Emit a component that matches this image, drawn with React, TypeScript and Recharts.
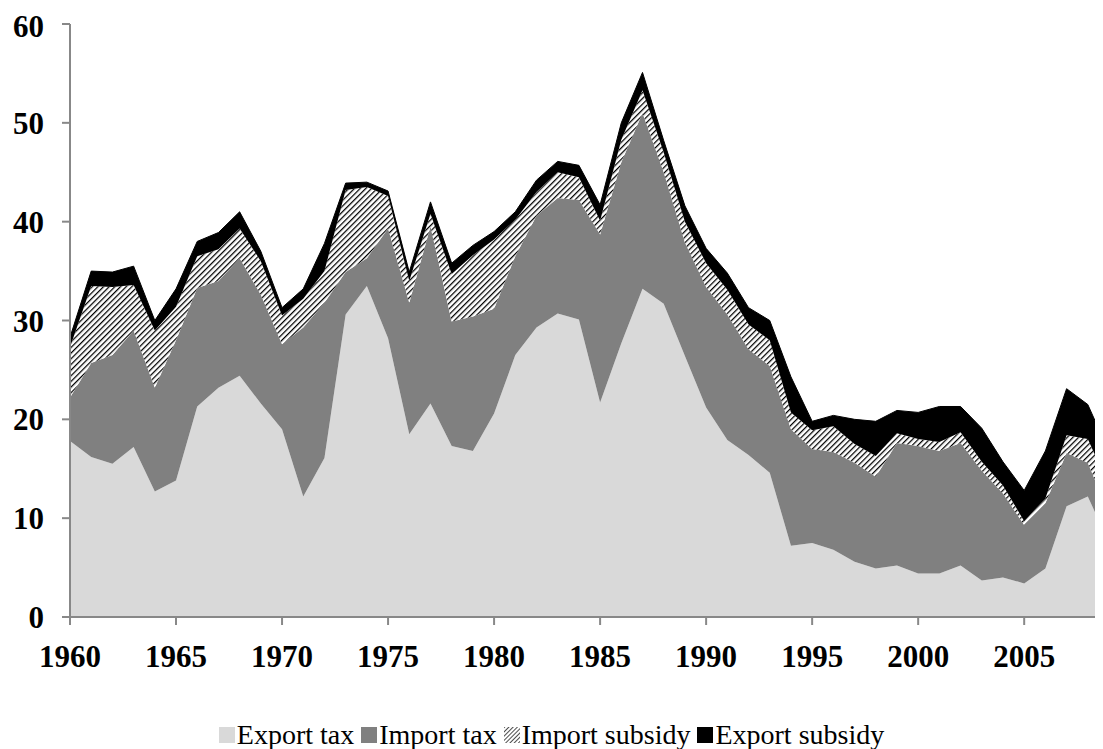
import { Area, AreaChart, XAxis, YAxis } from "recharts";

const years = [
  1960, 1961, 1962, 1963, 1964, 1965, 1966, 1967, 1968, 1969,
  1970, 1971, 1972, 1973, 1974, 1975, 1976, 1977, 1978, 1979,
  1980, 1981, 1982, 1983, 1984, 1985, 1986, 1987, 1988, 1989,
  1990, 1991, 1992, 1993, 1994, 1995, 1996, 1997, 1998, 1999,
  2000, 2001, 2002, 2003, 2004, 2005, 2006, 2007, 2008, 2009,
];

// values, per layer (stacked bottom to top)
const exportTax = [
  17.8, 16.2, 15.5, 17.2, 12.7, 13.8, 21.3, 23.2, 24.4, 21.6,
  19.0, 12.2, 16.1, 30.6, 33.5, 28.2, 18.5, 21.6, 17.3, 16.8,
  20.6, 26.5, 29.3, 30.7, 30.1, 21.7, 27.7, 33.2, 31.7, 26.4,
  21.2, 17.9, 16.4, 14.6, 7.2, 7.5, 6.8, 5.6, 4.9, 5.2,
  4.4, 4.4, 5.2, 3.7, 4.0, 3.4, 4.9, 11.2, 12.2, 7.5,
];
const importTax = [
  4.4, 9.5, 11.0, 11.8, 10.5, 14.2, 12.0, 10.8, 11.9, 11.0,
  8.6, 17.1, 15.7, 4.3, 2.8, 11.1, 13.3, 17.9, 12.6, 13.6,
  10.6, 10.0, 11.3, 11.7, 12.1, 17.0, 18.3, 17.8, 13.3, 11.5,
  12.2, 12.7, 10.7, 10.8, 11.8, 9.5, 9.9, 10.0, 9.3, 12.4,
  12.9, 12.4, 12.4, 11.1, 8.5, 5.9, 6.6, 5.4, 3.4, 3.0,
];
const importSubsidy = [
  5.1, 7.8, 6.9, 4.6, 5.8, 3.4, 3.2, 3.2, 3.0, 3.4,
  2.9, 2.9, 3.2, 8.3, 7.2, 3.3, 2.2, 1.3, 4.8, 6.2,
  7.0, 3.7, 2.4, 2.6, 2.3, 1.4, 2.3, 2.3, 2.0, 2.1,
  2.4, 2.5, 2.5, 2.6, 1.7, 1.9, 2.6, 1.9, 2.1, 1.0,
  0.7, 0.9, 1.1, 0.9, 0.8, 0.4, 0.5, 1.8, 2.4, 2.8,
];
const exportSubsidy = [
  1.0, 1.5, 1.5, 1.9, 1.0, 1.8, 1.5, 1.7, 1.7, 1.0,
  0.8, 1.0, 2.8, 0.7, 0.5, 0.5, 0.9, 1.2, 1.1, 1.0,
  0.8, 0.8, 1.2, 1.1, 1.2, 1.6, 1.7, 1.8, 1.2, 1.6,
  1.5, 1.7, 1.7, 2.0, 3.6, 0.9, 1.1, 2.5, 3.5, 2.3,
  2.7, 3.6, 2.6, 3.4, 2.4, 3.1, 4.8, 4.7, 3.5, 3.4,
];

const yTicks = [0, 10, 20, 30, 40, 50, 60];
const xTicks = [1960, 1965, 1970, 1975, 1980, 1985, 1990, 1995, 2000, 2005];

const legendItems = [
  { name: "Export tax", fill: "#d9d9d9" },
  { name: "Import tax", fill: "#808080" },
  { name: "Import subsidy", fill: "url(#hatchSmall)" },
  { name: "Export subsidy", fill: "#000000" },
];

const data = years.map((year, i) => ({
  year,
  exportTax: exportTax[i],
  importTax: importTax[i],
  importSubsidy: importSubsidy[i],
  exportSubsidy: exportSubsidy[i],
}));

const serif = "'Liberation Serif', 'Times New Roman', serif";
const axisGrey = "#888888";
const tickStyle = { fill: "#000", fontSize: 31, fontWeight: 700, fontFamily: serif };

function ChartLegend() {
  return (
    <div
      style={{
        width: 1087,
        marginTop: 31,
        height: 32,
        display: "flex",
        justifyContent: "center",
        alignItems: "center",
        fontFamily: serif,
        fontSize: 28,
        color: "#000",
        whiteSpace: "pre",
      }}
    >
      {legendItems.map((item, i) => (
        <span key={item.name} style={{ display: "flex", alignItems: "center" }}>
          <svg width={16} height={16} style={{ marginRight: 2 }}>
            <defs>
              <pattern id="hatchSmall" patternUnits="userSpaceOnUse" width={3} height={3} patternTransform="rotate(45)">
                <rect width={3} height={3} fill="#fff" />
                <line x1={0} y1={0} x2={0} y2={3} stroke="#000" strokeWidth={1.4} />
              </pattern>
            </defs>
            <rect width={16} height={16} fill={item.fill} />
          </svg>
          <span>{item.name}</span>
          {i < legendItems.length - 1 && <span> </span>}
        </span>
      ))}
    </div>
  );
}

export default function App() {
  return (
    <div style={{ width: 1095, height: 741, overflow: "hidden", background: "#fff" }}>
      <AreaChart
        width={1103}
        height={680}
        data={data}
        margin={{ top: 16, right: 2, bottom: 0, left: 0 }}
      >
        <defs>
          <pattern id="hatch" patternUnits="userSpaceOnUse" width={4} height={4} patternTransform="rotate(45)">
            <rect width={4} height={4} fill="#fff" />
            <line x1={0} y1={0} x2={0} y2={4} stroke="#000" strokeWidth={2.5} />
          </pattern>
        </defs>
        <XAxis
          dataKey="year"
          type="number"
          domain={[1960, 2009]}
          ticks={xTicks}
          height={71}
          tickSize={8}
          tickMargin={20}
          tick={tickStyle}
          axisLine={{ stroke: axisGrey, strokeWidth: 2 }}
          tickLine={{ stroke: axisGrey, strokeWidth: 2 }}
        />
        <YAxis
          domain={[0, 60]}
          ticks={yTicks}
          width={62}
          tickSize={8}
          tickMargin={18}
          tick={tickStyle}
          axisLine={{ stroke: axisGrey, strokeWidth: 2 }}
          tickLine={{ stroke: axisGrey, strokeWidth: 2 }}
        />
        <Area type="linear" dataKey="exportTax" stackId="a" stroke="none" fill="#d9d9d9" fillOpacity={1} isAnimationActive={false} />
        <Area type="linear" dataKey="importTax" stackId="a" stroke="none" fill="#808080" fillOpacity={1} isAnimationActive={false} />
        <Area type="linear" dataKey="importSubsidy" stackId="a" stroke="none" fill="url(#hatch)" fillOpacity={1} isAnimationActive={false} />
        <Area type="linear" dataKey="exportSubsidy" stackId="a" stroke="#000" strokeWidth={1} fill="#000" fillOpacity={1} isAnimationActive={false} />
      </AreaChart>
      <ChartLegend />
    </div>
  );
}
